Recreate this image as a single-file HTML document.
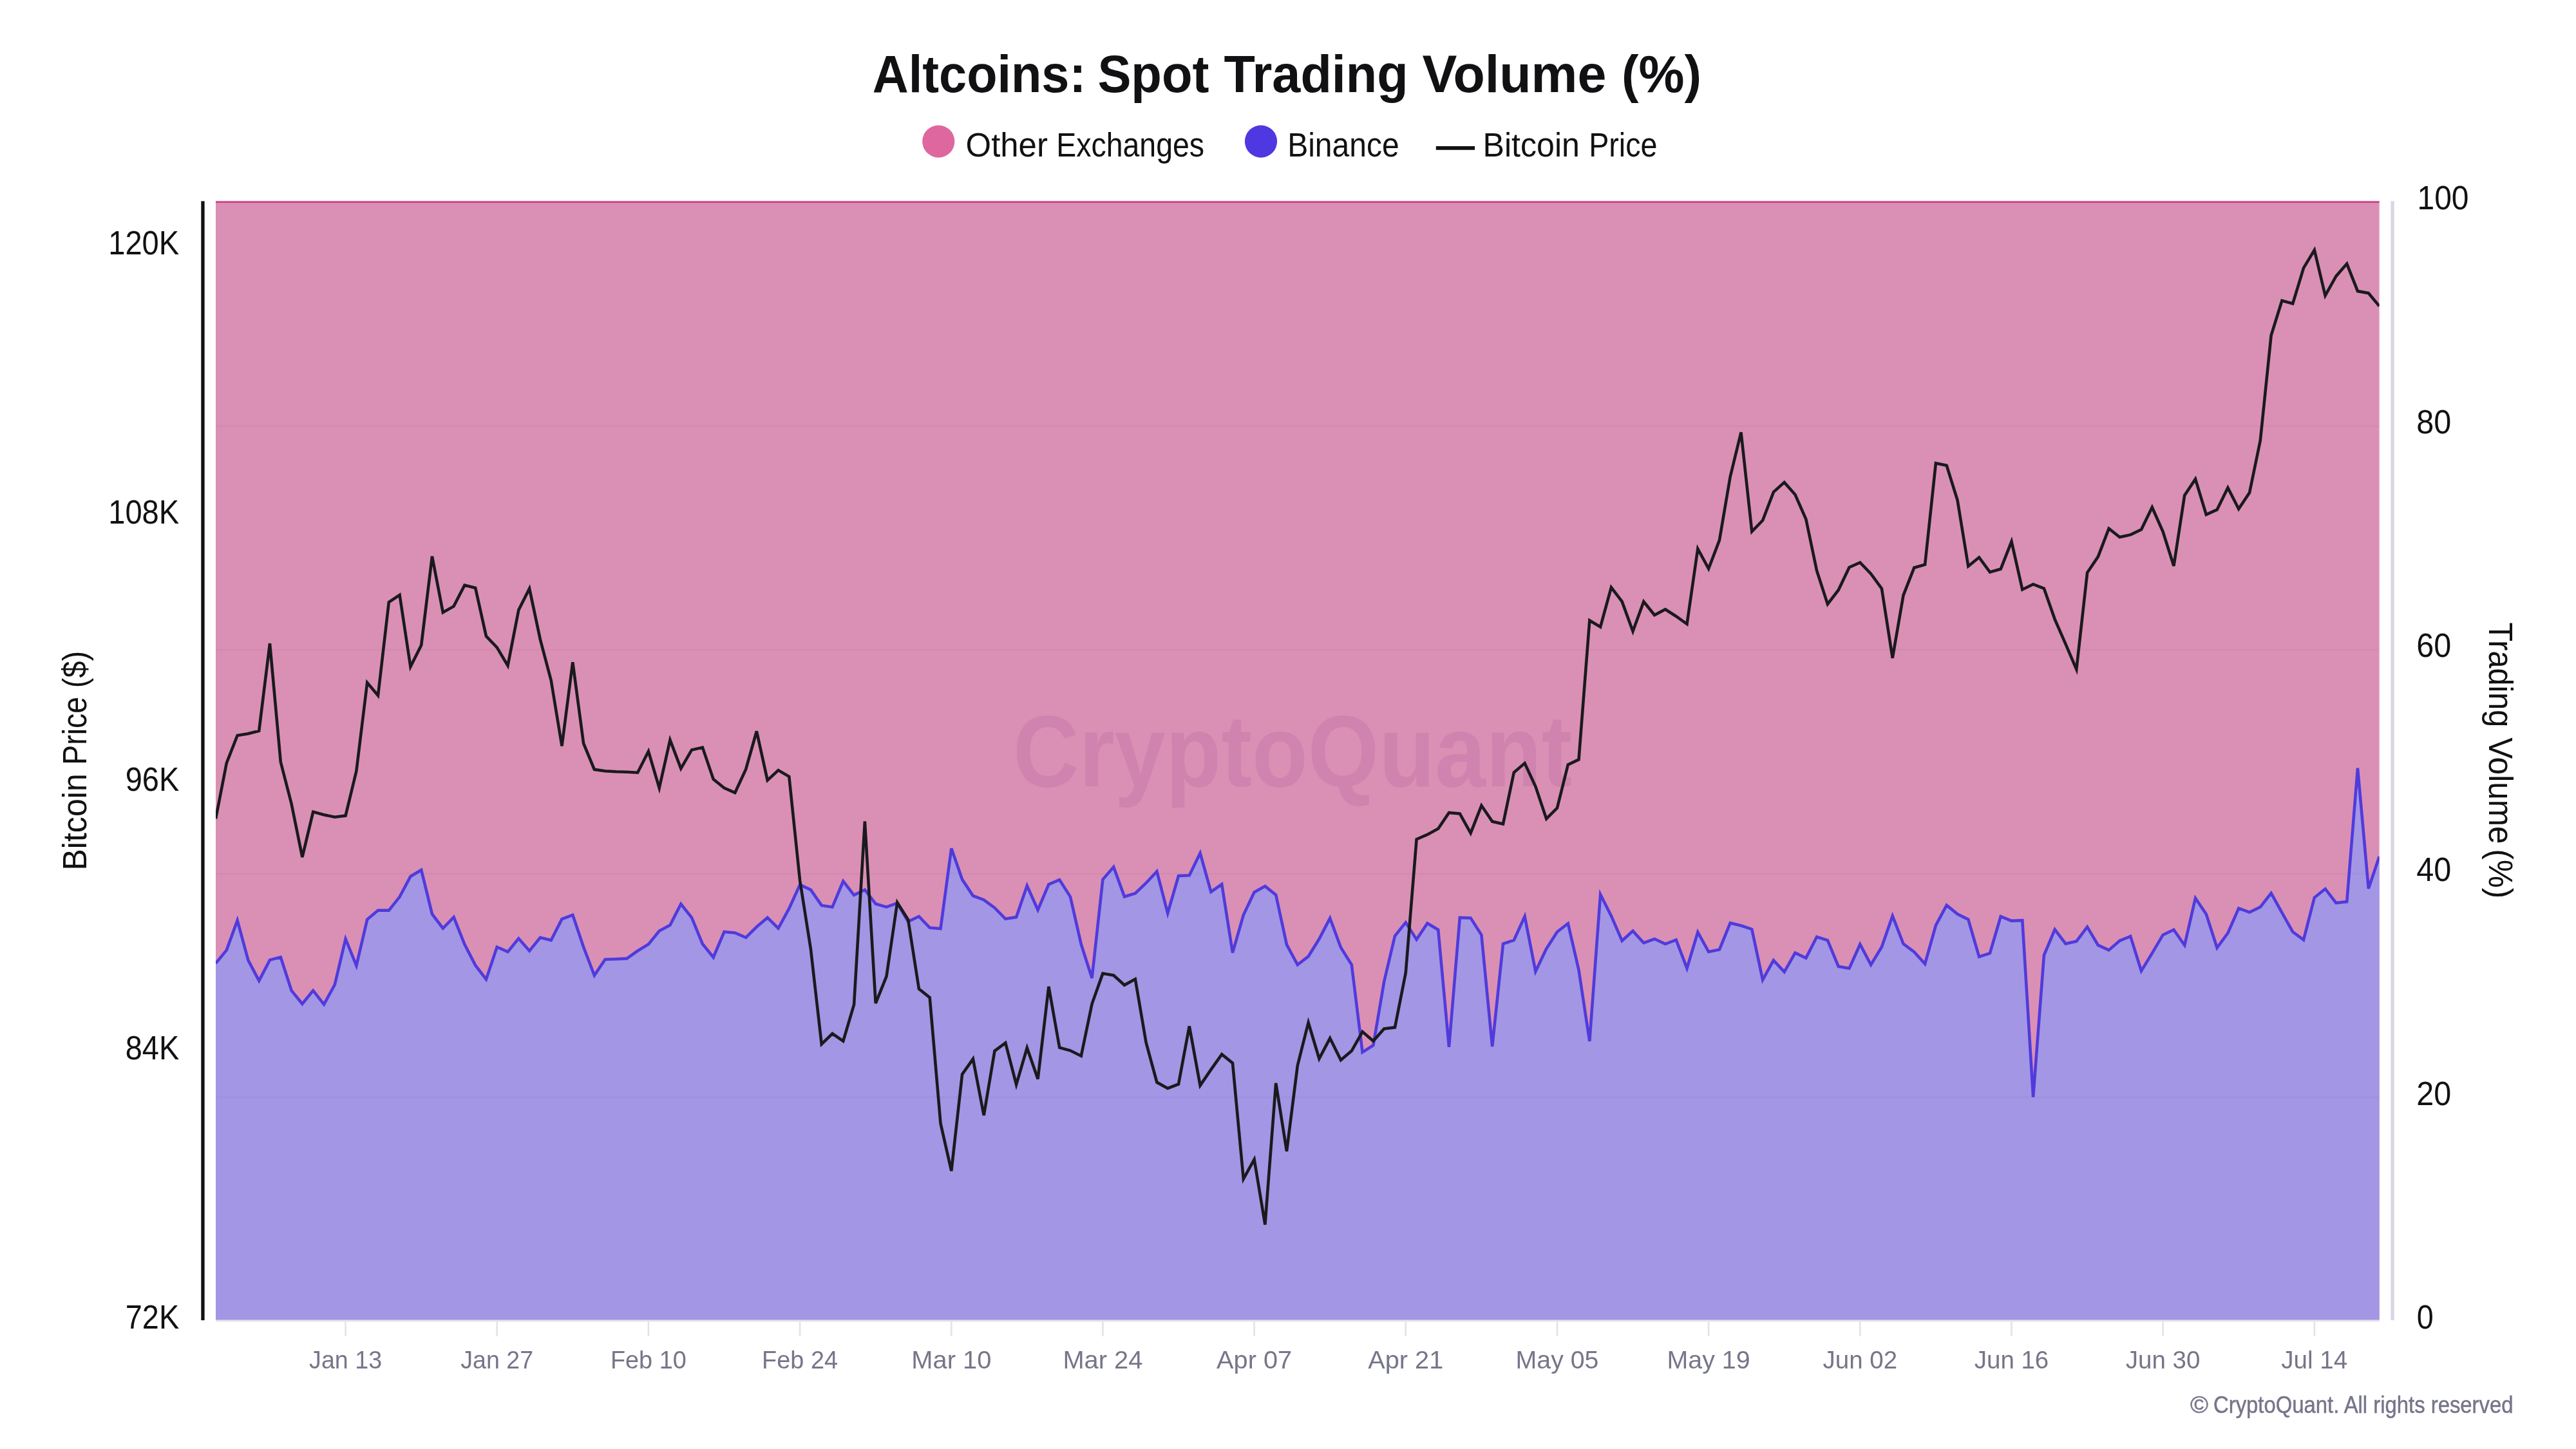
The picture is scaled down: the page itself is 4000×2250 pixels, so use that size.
<!DOCTYPE html>
<html><head><meta charset="utf-8"><title>Altcoins: Spot Trading Volume (%)</title>
<style>
html,body{margin:0;padding:0;background:#fff;}
body{width:4000px;height:2250px;overflow:hidden;font-family:"Liberation Sans",sans-serif;}
svg{display:block;will-change:transform;}
text{font-family:"Liberation Sans",sans-serif;}
</style></head><body>
<svg width="4000" height="2250" viewBox="0 0 4000 2250">
<rect x="0" y="0" width="4000" height="2250" fill="#ffffff"/>

<rect x="335.0" y="312.3" width="3359.6" height="1737.3" fill="#da90b5"/>
<polygon fill="#a396e4" points="335.0,1495.9 351.8,1475.4 368.6,1429.1 385.4,1491.2 402.2,1522.9 419.0,1490.6 435.8,1486.2 452.6,1538.1 469.4,1558.8 486.2,1538.1 503.0,1559.6 519.8,1529.0 536.6,1458.0 553.4,1499.4 570.2,1427.7 587.0,1413.6 603.8,1413.6 620.6,1392.6 637.4,1360.9 654.2,1350.9 671.0,1419.4 687.8,1441.5 704.6,1424.1 721.4,1466.3 738.2,1498.9 754.9,1520.7 771.7,1470.5 788.5,1477.9 805.3,1457.2 822.1,1476.5 838.9,1455.8 855.7,1460.0 872.5,1427.1 889.3,1420.8 906.1,1470.5 922.9,1514.6 939.7,1489.8 956.5,1489.2 973.3,1488.4 990.1,1476.5 1006.9,1466.3 1023.7,1445.6 1040.5,1436.5 1057.3,1403.7 1074.1,1424.9 1090.9,1465.8 1107.7,1486.5 1124.5,1447.0 1141.3,1448.4 1158.1,1455.8 1174.9,1439.3 1191.7,1424.9 1208.5,1441.5 1225.3,1410.6 1242.1,1373.8 1258.9,1381.6 1275.7,1405.9 1292.5,1408.4 1309.3,1368.3 1326.1,1389.9 1342.9,1381.6 1359.7,1403.4 1376.5,1408.4 1393.3,1402.3 1410.1,1431.0 1426.9,1423.0 1443.7,1440.6 1460.5,1442.0 1477.3,1317.3 1494.1,1365.6 1510.9,1391.0 1527.7,1397.3 1544.5,1409.7 1561.3,1426.8 1578.1,1424.1 1594.8,1375.2 1611.6,1413.0 1628.4,1373.3 1645.2,1366.1 1662.0,1392.6 1678.8,1466.3 1695.6,1518.8 1712.4,1365.6 1729.2,1346.2 1746.0,1392.3 1762.8,1387.1 1779.6,1371.1 1796.4,1353.1 1813.2,1418.0 1830.0,1360.0 1846.8,1359.2 1863.6,1324.7 1880.4,1384.9 1897.2,1373.0 1914.0,1479.3 1930.8,1420.8 1947.6,1385.4 1964.4,1376.1 1981.2,1389.6 1998.0,1466.9 2014.8,1498.1 2031.6,1485.1 2048.4,1458.0 2065.2,1425.7 2082.0,1471.3 2098.8,1498.1 2115.6,1633.9 2132.4,1623.1 2149.2,1524.3 2166.0,1453.3 2182.8,1432.4 2199.6,1458.9 2216.4,1433.7 2233.2,1443.7 2250.0,1625.9 2266.8,1424.9 2283.6,1425.5 2300.4,1451.7 2317.2,1625.0 2334.0,1465.5 2350.8,1460.0 2367.6,1423.0 2384.4,1508.5 2401.2,1473.2 2418.0,1447.0 2434.8,1434.0 2451.5,1506.3 2468.3,1616.8 2485.1,1389.0 2501.9,1422.2 2518.7,1460.8 2535.5,1445.6 2552.3,1464.1 2569.1,1458.0 2585.9,1465.8 2602.7,1459.4 2619.5,1503.6 2636.3,1447.5 2653.1,1477.9 2669.9,1474.6 2686.7,1433.2 2703.5,1437.3 2720.3,1442.9 2737.1,1521.5 2753.9,1491.2 2770.7,1509.1 2787.5,1479.6 2804.3,1487.6 2821.1,1454.7 2837.9,1460.0 2854.7,1500.8 2871.5,1503.6 2888.3,1466.3 2905.1,1498.1 2921.9,1470.5 2938.7,1422.2 2955.5,1465.5 2972.3,1478.2 2989.1,1496.7 3005.9,1436.8 3022.7,1405.6 3039.5,1419.4 3056.3,1427.7 3073.1,1485.6 3089.9,1480.1 3106.7,1423.0 3123.5,1429.9 3140.3,1429.1 3157.1,1703.6 3173.9,1483.4 3190.7,1443.4 3207.5,1465.5 3224.3,1461.6 3241.1,1439.3 3257.9,1467.7 3274.6,1475.4 3291.4,1460.8 3308.2,1453.9 3325.0,1507.7 3341.8,1480.1 3358.6,1451.7 3375.4,1443.7 3392.2,1467.7 3409.0,1394.6 3425.8,1419.4 3442.6,1471.8 3459.4,1448.9 3476.2,1410.3 3493.0,1416.6 3509.8,1408.4 3526.6,1386.8 3543.4,1417.2 3560.2,1447.0 3577.0,1459.4 3593.8,1393.7 3610.6,1380.2 3627.4,1402.0 3644.2,1400.1 3661.0,1192.7 3677.8,1379.8 3694.6,1330.1 3694.6,2049.6 335.0,2049.6"/>
<rect x="335.0" y="1702.6" width="3359.6" height="2.9" fill="#602060" fill-opacity="0.04"/>
<rect x="335.0" y="1355.2" width="3359.6" height="2.9" fill="#602060" fill-opacity="0.04"/>
<rect x="335.0" y="1007.7" width="3359.6" height="2.9" fill="#602060" fill-opacity="0.04"/>
<rect x="335.0" y="660.3" width="3359.6" height="2.9" fill="#602060" fill-opacity="0.04"/>
<text x="1573" y="1221" font-size="158" font-weight="bold" textLength="868" lengthAdjust="spacingAndGlyphs" fill="#cf83ae" fill-opacity="1">CryptoQuant</text>
<rect x="335.0" y="310.3" width="3359.6" height="2.2" fill="#f5f7f9"/>
<rect x="335.0" y="312.4" width="3359.6" height="2.6" fill="#d23c82"/>
<clipPath id="pc"><rect x="335.0" y="312.3" width="3359.6" height="1737.3"/></clipPath>
<polyline clip-path="url(#pc)" fill="none" stroke="#4f3bdc" stroke-width="4.6" stroke-linejoin="miter" stroke-miterlimit="4" points="335.0,1495.9 351.8,1475.4 368.6,1429.1 385.4,1491.2 402.2,1522.9 419.0,1490.6 435.8,1486.2 452.6,1538.1 469.4,1558.8 486.2,1538.1 503.0,1559.6 519.8,1529.0 536.6,1458.0 553.4,1499.4 570.2,1427.7 587.0,1413.6 603.8,1413.6 620.6,1392.6 637.4,1360.9 654.2,1350.9 671.0,1419.4 687.8,1441.5 704.6,1424.1 721.4,1466.3 738.2,1498.9 754.9,1520.7 771.7,1470.5 788.5,1477.9 805.3,1457.2 822.1,1476.5 838.9,1455.8 855.7,1460.0 872.5,1427.1 889.3,1420.8 906.1,1470.5 922.9,1514.6 939.7,1489.8 956.5,1489.2 973.3,1488.4 990.1,1476.5 1006.9,1466.3 1023.7,1445.6 1040.5,1436.5 1057.3,1403.7 1074.1,1424.9 1090.9,1465.8 1107.7,1486.5 1124.5,1447.0 1141.3,1448.4 1158.1,1455.8 1174.9,1439.3 1191.7,1424.9 1208.5,1441.5 1225.3,1410.6 1242.1,1373.8 1258.9,1381.6 1275.7,1405.9 1292.5,1408.4 1309.3,1368.3 1326.1,1389.9 1342.9,1381.6 1359.7,1403.4 1376.5,1408.4 1393.3,1402.3 1410.1,1431.0 1426.9,1423.0 1443.7,1440.6 1460.5,1442.0 1477.3,1317.3 1494.1,1365.6 1510.9,1391.0 1527.7,1397.3 1544.5,1409.7 1561.3,1426.8 1578.1,1424.1 1594.8,1375.2 1611.6,1413.0 1628.4,1373.3 1645.2,1366.1 1662.0,1392.6 1678.8,1466.3 1695.6,1518.8 1712.4,1365.6 1729.2,1346.2 1746.0,1392.3 1762.8,1387.1 1779.6,1371.1 1796.4,1353.1 1813.2,1418.0 1830.0,1360.0 1846.8,1359.2 1863.6,1324.7 1880.4,1384.9 1897.2,1373.0 1914.0,1479.3 1930.8,1420.8 1947.6,1385.4 1964.4,1376.1 1981.2,1389.6 1998.0,1466.9 2014.8,1498.1 2031.6,1485.1 2048.4,1458.0 2065.2,1425.7 2082.0,1471.3 2098.8,1498.1 2115.6,1633.9 2132.4,1623.1 2149.2,1524.3 2166.0,1453.3 2182.8,1432.4 2199.6,1458.9 2216.4,1433.7 2233.2,1443.7 2250.0,1625.9 2266.8,1424.9 2283.6,1425.5 2300.4,1451.7 2317.2,1625.0 2334.0,1465.5 2350.8,1460.0 2367.6,1423.0 2384.4,1508.5 2401.2,1473.2 2418.0,1447.0 2434.8,1434.0 2451.5,1506.3 2468.3,1616.8 2485.1,1389.0 2501.9,1422.2 2518.7,1460.8 2535.5,1445.6 2552.3,1464.1 2569.1,1458.0 2585.9,1465.8 2602.7,1459.4 2619.5,1503.6 2636.3,1447.5 2653.1,1477.9 2669.9,1474.6 2686.7,1433.2 2703.5,1437.3 2720.3,1442.9 2737.1,1521.5 2753.9,1491.2 2770.7,1509.1 2787.5,1479.6 2804.3,1487.6 2821.1,1454.7 2837.9,1460.0 2854.7,1500.8 2871.5,1503.6 2888.3,1466.3 2905.1,1498.1 2921.9,1470.5 2938.7,1422.2 2955.5,1465.5 2972.3,1478.2 2989.1,1496.7 3005.9,1436.8 3022.7,1405.6 3039.5,1419.4 3056.3,1427.7 3073.1,1485.6 3089.9,1480.1 3106.7,1423.0 3123.5,1429.9 3140.3,1429.1 3157.1,1703.6 3173.9,1483.4 3190.7,1443.4 3207.5,1465.5 3224.3,1461.6 3241.1,1439.3 3257.9,1467.7 3274.6,1475.4 3291.4,1460.8 3308.2,1453.9 3325.0,1507.7 3341.8,1480.1 3358.6,1451.7 3375.4,1443.7 3392.2,1467.7 3409.0,1394.6 3425.8,1419.4 3442.6,1471.8 3459.4,1448.9 3476.2,1410.3 3493.0,1416.6 3509.8,1408.4 3526.6,1386.8 3543.4,1417.2 3560.2,1447.0 3577.0,1459.4 3593.8,1393.7 3610.6,1380.2 3627.4,1402.0 3644.2,1400.1 3661.0,1192.7 3677.8,1379.8 3694.6,1330.1"/>
<polyline clip-path="url(#pc)" fill="none" stroke="#1a1a1e" stroke-width="4.6" stroke-linejoin="miter" stroke-miterlimit="4" points="335.0,1271.2 351.8,1184.9 368.6,1142.0 385.4,1139.2 402.2,1134.9 419.0,999.1 435.8,1183.2 452.6,1248.3 469.4,1331.0 486.2,1260.6 503.0,1265.2 519.8,1268.7 536.6,1266.6 553.4,1197.2 570.2,1060.0 587.0,1080.0 603.8,935.0 620.6,923.8 637.4,1035.3 654.2,1001.9 671.0,863.9 687.8,950.9 704.6,941.4 721.4,908.6 738.2,912.9 754.9,987.8 771.7,1005.4 788.5,1033.6 805.3,947.3 822.1,913.9 838.9,993.1 855.7,1056.5 872.5,1158.5 889.3,1028.3 906.1,1154.3 922.9,1194.8 939.7,1197.2 956.5,1198.3 973.3,1198.7 990.1,1199.7 1006.9,1166.6 1023.7,1223.6 1040.5,1149.0 1057.3,1193.4 1074.1,1164.4 1090.9,1160.6 1107.7,1210.0 1124.5,1223.6 1141.3,1230.9 1158.1,1194.6 1174.9,1135.5 1191.7,1211.6 1208.5,1196.1 1225.3,1205.8 1242.1,1367.3 1258.9,1473.6 1275.7,1621.3 1292.5,1605.0 1309.3,1616.6 1326.1,1559.8 1342.9,1275.4 1359.7,1557.9 1376.5,1516.1 1393.3,1401.4 1410.1,1428.0 1426.9,1535.5 1443.7,1549.0 1460.5,1744.3 1477.3,1818.3 1494.1,1668.1 1510.9,1644.3 1527.7,1731.9 1544.5,1631.9 1561.3,1619.4 1578.1,1684.1 1594.8,1627.0 1611.6,1675.4 1628.4,1531.9 1645.2,1626.7 1662.0,1631.3 1678.8,1639.7 1695.6,1558.8 1712.4,1511.6 1729.2,1514.5 1746.0,1529.6 1762.8,1520.3 1779.6,1618.8 1796.4,1680.6 1813.2,1689.9 1830.0,1683.5 1846.8,1593.3 1863.6,1685.5 1880.4,1660.9 1897.2,1637.1 1914.0,1650.7 1930.8,1830.7 1947.6,1800.4 1964.4,1901.5 1981.2,1681.9 1998.0,1787.6 2014.8,1654.6 2031.6,1587.8 2048.4,1644.0 2065.2,1612.1 2082.0,1646.1 2098.8,1631.8 2115.6,1602.1 2132.4,1616.6 2149.2,1597.5 2166.0,1595.4 2182.8,1510.4 2199.6,1303.2 2216.4,1295.9 2233.2,1286.7 2250.0,1261.9 2266.8,1263.5 2283.6,1293.7 2300.4,1250.8 2317.2,1275.6 2334.0,1279.4 2350.8,1199.4 2367.6,1185.1 2384.4,1221.3 2401.2,1271.4 2418.0,1254.6 2434.8,1187.3 2451.5,1179.4 2468.3,963.4 2485.1,973.4 2501.9,912.2 2518.7,934.2 2535.5,980.2 2552.3,934.2 2569.1,955.0 2585.9,946.2 2602.7,957.0 2619.5,969.0 2636.3,852.1 2653.1,883.0 2669.9,838.9 2686.7,740.1 2703.5,671.2 2720.3,825.3 2737.1,808.1 2753.9,764.1 2770.7,748.9 2787.5,768.1 2804.3,806.1 2821.1,886.2 2837.9,938.2 2854.7,916.2 2871.5,881.0 2888.3,873.4 2905.1,891.0 2921.9,913.8 2938.7,1021.8 2955.5,924.3 2972.3,881.5 2989.1,876.8 3005.9,719.2 3022.7,722.8 3039.5,776.6 3056.3,879.3 3073.1,865.5 3089.9,888.4 3106.7,883.5 3123.5,840.9 3140.3,915.5 3157.1,907.2 3173.9,913.8 3190.7,961.6 3207.5,1000.2 3224.3,1039.4 3241.1,889.2 3257.9,864.4 3274.6,820.8 3291.4,834.0 3308.2,830.4 3325.0,822.2 3341.8,787.7 3358.6,825.5 3375.4,878.8 3392.2,769.2 3409.0,743.9 3425.8,799.1 3442.6,791.4 3459.4,757.4 3476.2,790.2 3493.0,765.1 3509.8,684.0 3526.6,520.9 3543.4,466.8 3560.2,471.4 3577.0,416.1 3593.8,388.3 3610.6,459.0 3627.4,428.9 3644.2,409.6 3661.0,452.1 3677.8,455.2 3694.6,475.3"/>
<rect x="312.3" y="312.3" width="5.3" height="1737.8" fill="#111114"/>
<rect x="3712.4" y="312.3" width="5.3" height="1737.8" fill="#d9d6e3"/>
<rect x="335.0" y="2049.6" width="3359.6" height="2.8" fill="#e3e2ea"/>
<rect x="535.3000000000001" y="2052.4" width="2.6" height="22.4" fill="#e3e2ea"/>
<text x="536.6" y="2124.6" font-size="38" text-anchor="middle" textLength="113" lengthAdjust="spacingAndGlyphs" fill="#76768a">Jan 13</text>
<rect x="770.4000000000001" y="2052.4" width="2.6" height="22.4" fill="#e3e2ea"/>
<text x="771.7" y="2124.6" font-size="38" text-anchor="middle" textLength="113" lengthAdjust="spacingAndGlyphs" fill="#76768a">Jan 27</text>
<rect x="1005.6" y="2052.4" width="2.6" height="22.4" fill="#e3e2ea"/>
<text x="1006.9" y="2124.6" font-size="38" text-anchor="middle" textLength="118" lengthAdjust="spacingAndGlyphs" fill="#76768a">Feb 10</text>
<rect x="1240.8" y="2052.4" width="2.6" height="22.4" fill="#e3e2ea"/>
<text x="1242.1" y="2124.6" font-size="38" text-anchor="middle" textLength="118" lengthAdjust="spacingAndGlyphs" fill="#76768a">Feb 24</text>
<rect x="1476.0" y="2052.4" width="2.6" height="22.4" fill="#e3e2ea"/>
<text x="1477.3" y="2124.6" font-size="38" text-anchor="middle" textLength="124" lengthAdjust="spacingAndGlyphs" fill="#76768a">Mar 10</text>
<rect x="1711.1000000000001" y="2052.4" width="2.6" height="22.4" fill="#e3e2ea"/>
<text x="1712.4" y="2124.6" font-size="38" text-anchor="middle" textLength="124" lengthAdjust="spacingAndGlyphs" fill="#76768a">Mar 24</text>
<rect x="1946.3" y="2052.4" width="2.6" height="22.4" fill="#e3e2ea"/>
<text x="1947.6" y="2124.6" font-size="38" text-anchor="middle" textLength="117" lengthAdjust="spacingAndGlyphs" fill="#76768a">Apr 07</text>
<rect x="2181.5" y="2052.4" width="2.6" height="22.4" fill="#e3e2ea"/>
<text x="2182.8" y="2124.6" font-size="38" text-anchor="middle" textLength="117" lengthAdjust="spacingAndGlyphs" fill="#76768a">Apr 21</text>
<rect x="2416.7" y="2052.4" width="2.6" height="22.4" fill="#e3e2ea"/>
<text x="2418.0" y="2124.6" font-size="38" text-anchor="middle" textLength="129" lengthAdjust="spacingAndGlyphs" fill="#76768a">May 05</text>
<rect x="2651.7999999999997" y="2052.4" width="2.6" height="22.4" fill="#e3e2ea"/>
<text x="2653.1" y="2124.6" font-size="38" text-anchor="middle" textLength="129" lengthAdjust="spacingAndGlyphs" fill="#76768a">May 19</text>
<rect x="2887.0" y="2052.4" width="2.6" height="22.4" fill="#e3e2ea"/>
<text x="2888.3" y="2124.6" font-size="38" text-anchor="middle" textLength="115.5" lengthAdjust="spacingAndGlyphs" fill="#76768a">Jun 02</text>
<rect x="3122.2" y="2052.4" width="2.6" height="22.4" fill="#e3e2ea"/>
<text x="3123.5" y="2124.6" font-size="38" text-anchor="middle" textLength="115.5" lengthAdjust="spacingAndGlyphs" fill="#76768a">Jun 16</text>
<rect x="3357.2999999999997" y="2052.4" width="2.6" height="22.4" fill="#e3e2ea"/>
<text x="3358.6" y="2124.6" font-size="38" text-anchor="middle" textLength="115.5" lengthAdjust="spacingAndGlyphs" fill="#76768a">Jun 30</text>
<rect x="3592.5" y="2052.4" width="2.6" height="22.4" fill="#e3e2ea"/>
<text x="3593.8" y="2124.6" font-size="38" text-anchor="middle" textLength="103" lengthAdjust="spacingAndGlyphs" fill="#76768a">Jul 14</text>
<text x="278.2" y="395" font-size="51" text-anchor="end" textLength="110" lengthAdjust="spacingAndGlyphs" fill="#111114">120K</text>
<text x="278.2" y="813" font-size="51" text-anchor="end" textLength="110" lengthAdjust="spacingAndGlyphs" fill="#111114">108K</text>
<text x="278.2" y="1228" font-size="51" text-anchor="end" textLength="83.5" lengthAdjust="spacingAndGlyphs" fill="#111114">96K</text>
<text x="278.2" y="1645" font-size="51" text-anchor="end" textLength="83.5" lengthAdjust="spacingAndGlyphs" fill="#111114">84K</text>
<text x="278.2" y="2063" font-size="51" text-anchor="end" textLength="83.5" lengthAdjust="spacingAndGlyphs" fill="#111114">72K</text>
<text x="3753.5" y="325" font-size="51" textLength="80" lengthAdjust="spacingAndGlyphs" fill="#111114">100</text>
<text x="3752.3" y="673" font-size="51" textLength="54" lengthAdjust="spacingAndGlyphs" fill="#111114">80</text>
<text x="3752.3" y="1020" font-size="51" textLength="54" lengthAdjust="spacingAndGlyphs" fill="#111114">60</text>
<text x="3752.3" y="1368" font-size="51" textLength="54" lengthAdjust="spacingAndGlyphs" fill="#111114">40</text>
<text x="3752.3" y="1716" font-size="51" textLength="54" lengthAdjust="spacingAndGlyphs" fill="#111114">20</text>
<text x="3752.7" y="2063" font-size="51" textLength="26" lengthAdjust="spacingAndGlyphs" fill="#111114">0</text>
<text transform="translate(134.0,1351.57) rotate(-90)" font-size="51" textLength="150.32" lengthAdjust="spacingAndGlyphs" fill="#111114">Bitcoin</text>
<text transform="translate(134.0,1187.77) rotate(-90)" font-size="51" textLength="105.8" lengthAdjust="spacingAndGlyphs" fill="#111114">Price</text>
<text transform="translate(134.0,1068.21) rotate(-90)" font-size="51" textLength="57.41" lengthAdjust="spacingAndGlyphs" fill="#111114">($)</text>
<text transform="translate(3865.1,966.5) rotate(90)" font-size="51" textLength="162.8" lengthAdjust="spacingAndGlyphs" fill="#111114">Trading</text>
<text transform="translate(3865.1,1145.3) rotate(90)" font-size="51" textLength="165.17" lengthAdjust="spacingAndGlyphs" fill="#111114">Volume</text>
<text transform="translate(3865.1,1318.62) rotate(90)" font-size="51" textLength="76.46" lengthAdjust="spacingAndGlyphs" fill="#111114">(%)</text>
<text x="1354.76" y="143" font-size="81.5" font-weight="bold" textLength="331.47" lengthAdjust="spacingAndGlyphs" fill="#111114">Altcoins:</text>
<text x="1704.41" y="143" font-size="81.5" font-weight="bold" textLength="173.08" lengthAdjust="spacingAndGlyphs" fill="#111114">Spot</text>
<text x="1900.39" y="143" font-size="81.5" font-weight="bold" textLength="286.35" lengthAdjust="spacingAndGlyphs" fill="#111114">Trading</text>
<text x="2208.5" y="143" font-size="81.5" font-weight="bold" textLength="285.9" lengthAdjust="spacingAndGlyphs" fill="#111114">Volume</text>
<text x="2517.98" y="143" font-size="81.5" font-weight="bold" textLength="124.12" lengthAdjust="spacingAndGlyphs" fill="#111114">(%)</text>
<text x="1499.62" y="242.5" font-size="51" textLength="127.27" lengthAdjust="spacingAndGlyphs" fill="#111114">Other</text>
<text x="1640.17" y="242.5" font-size="51" textLength="229.94" lengthAdjust="spacingAndGlyphs" fill="#111114">Exchanges</text>
<text x="1999.16" y="242.5" font-size="51" textLength="173.56" lengthAdjust="spacingAndGlyphs" fill="#111114">Binance</text>
<text x="2302.51" y="242.5" font-size="51" textLength="150.45" lengthAdjust="spacingAndGlyphs" fill="#111114">Bitcoin</text>
<text x="2467.13" y="242.5" font-size="51" textLength="106.31" lengthAdjust="spacingAndGlyphs" fill="#111114">Price</text>
<circle cx="1457.3" cy="219.6" r="25.1" fill="#df67a0"/>
<circle cx="1958" cy="219.6" r="25.1" fill="#4f37e2"/>
<rect x="2229.8" y="227" width="60.3" height="5.8" fill="#111114"/>
<text x="3401.0" y="2194" font-size="36" textLength="28" lengthAdjust="spacingAndGlyphs" fill="#76768a" stroke="#76768a" stroke-width="0.5">©</text>
<text x="3437.0" y="2194" font-size="36" textLength="465.5" lengthAdjust="spacingAndGlyphs" fill="#76768a" stroke="#76768a" stroke-width="0.5">CryptoQuant. All rights reserved</text>
</svg></body></html>
